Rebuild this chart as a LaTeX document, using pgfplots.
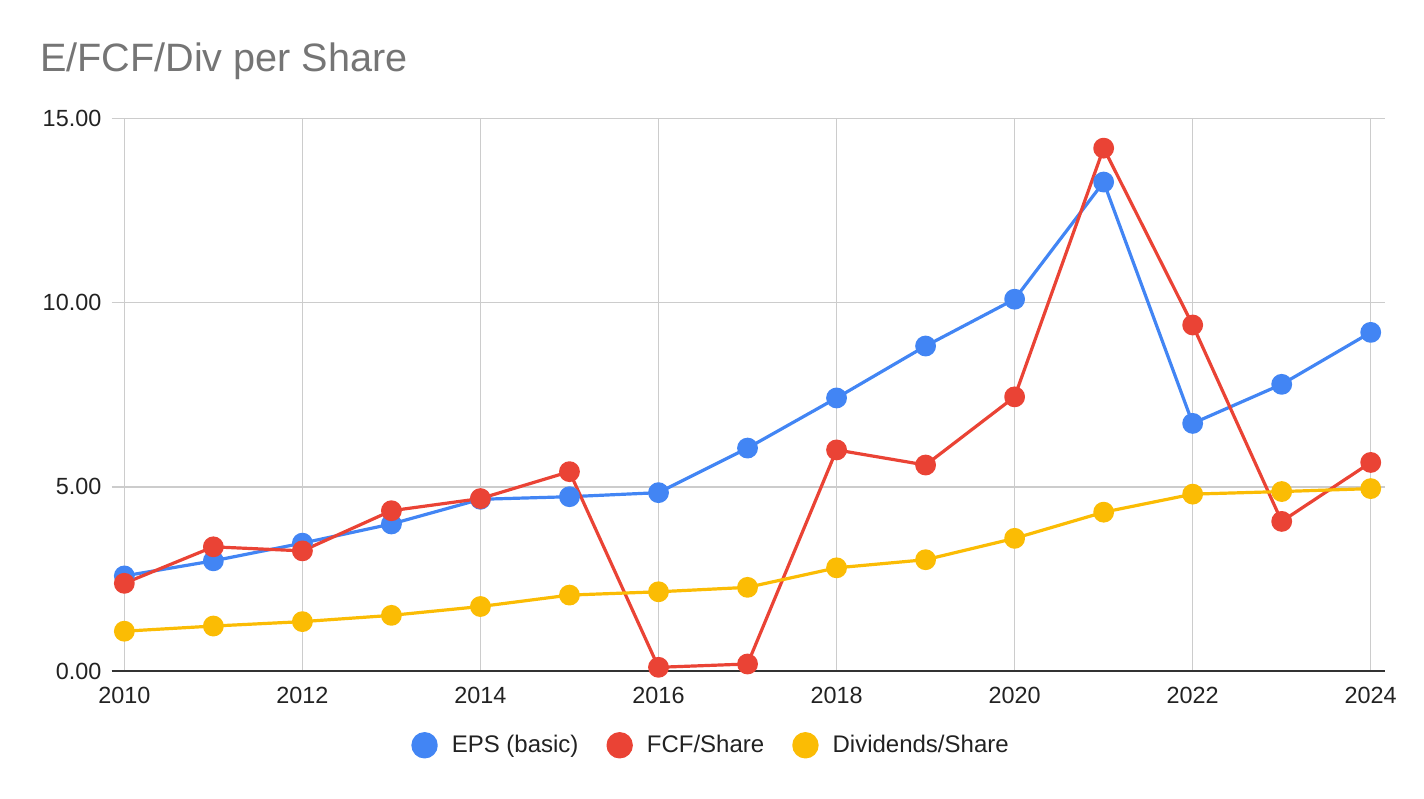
\documentclass[border=0pt]{standalone}
\usepackage{fontspec}
\setmainfont{Liberation Sans}
\usepackage{pgfplots}
\pgfplotsset{compat=1.18}
\usepackage{pgfplotstable}
\definecolor{cblue}{HTML}{4285F4}
\definecolor{cred}{HTML}{EA4335}
\definecolor{cyellow}{HTML}{FBBC04}
\definecolor{ctitle}{HTML}{757575}
\definecolor{cgrid}{HTML}{CCCCCC}
\definecolor{caxis}{HTML}{333333}
\definecolor{clabel}{HTML}{222222}
\pgfplotstableread{
year eps fcf div
2010 2.58 2.38 1.08
2011 2.99 3.37 1.22
2012 3.47 3.26 1.34
2013 3.99 4.35 1.51
2014 4.66 4.68 1.75
2015 4.73 5.41 2.06
2016 4.84 0.10 2.15
2017 6.05 0.19 2.27
2018 7.41 6.00 2.80
2019 8.82 5.59 3.02
2020 10.09 7.44 3.60
2021 13.27 14.19 4.31
2022 6.72 9.39 4.80
2023 7.78 4.06 4.87
2024 9.19 5.66 4.95
}\datatable
\begin{document}
\begin{tikzpicture}
\path[use as bounding box] (0pt,0pt) rectangle (712pt,399pt);
\node[anchor=base west, font=\fontsize{19.8}{22}\selectfont, text=ctitle, inner sep=0pt] at (19.8pt,363.15pt) {E/FCF/Div per Share};
\begin{axis}[
  at={(55.85pt,63.5pt)}, anchor=south west,
  scale only axis, width=636.5pt, height=276.35pt,
  xmin=2009.858, xmax=2024.157, ymin=0, ymax=15,
  xtick={2010,2012,...,2024}, ytick={0,5,10,15},
  grid=major, grid style={draw=cgrid, line width=0.75pt},
  axis line style={draw=none},
  major tick length=0pt,
  extra y ticks={0}, extra y tick labels={},
  extra y tick style={grid style={draw=caxis, line width=1pt}},
  /pgf/number format/assume math mode=true,
  tick label style={font=\fontsize{11.7}{13}\selectfont, text=clabel},
  xticklabel style={/pgf/number format/1000 sep={}, anchor=north, inner sep=0pt, yshift=-7.85pt},
  yticklabel style={/pgf/number format/fixed, /pgf/number format/fixed zerofill, /pgf/number format/precision=2, anchor=east, inner sep=0pt, xshift=-5pt},
  legend columns=3,
  legend style={at={(0.4716,-0.1344)}, anchor=center, draw=none, fill=none,
    font=\fontsize{12}{13}\selectfont, text=clabel,
    /tikz/every odd column/.append style={column sep=5pt},
    /tikz/every even column/.append style={column sep=12pt}},
  legend image code/.code={\fill[#1] (0pt,0pt) circle (5.8pt);},
]
\addplot[color=cblue, line width=1.6pt, line join=round, mark=*, mark size=4.4pt, mark options={solid}] table[x=year,y=eps]{\datatable};
\addlegendentry{EPS (basic)}
\addplot[color=cred, line width=1.6pt, line join=round, mark=*, mark size=4.4pt, mark options={solid}] table[x=year,y=fcf]{\datatable};
\addlegendentry{FCF/Share}
\addplot[color=cyellow, line width=1.6pt, line join=round, mark=*, mark size=4.4pt, mark options={solid}] table[x=year,y=div]{\datatable};
\addlegendentry{Dividends/Share}
\end{axis}
\end{tikzpicture}
\end{document}
